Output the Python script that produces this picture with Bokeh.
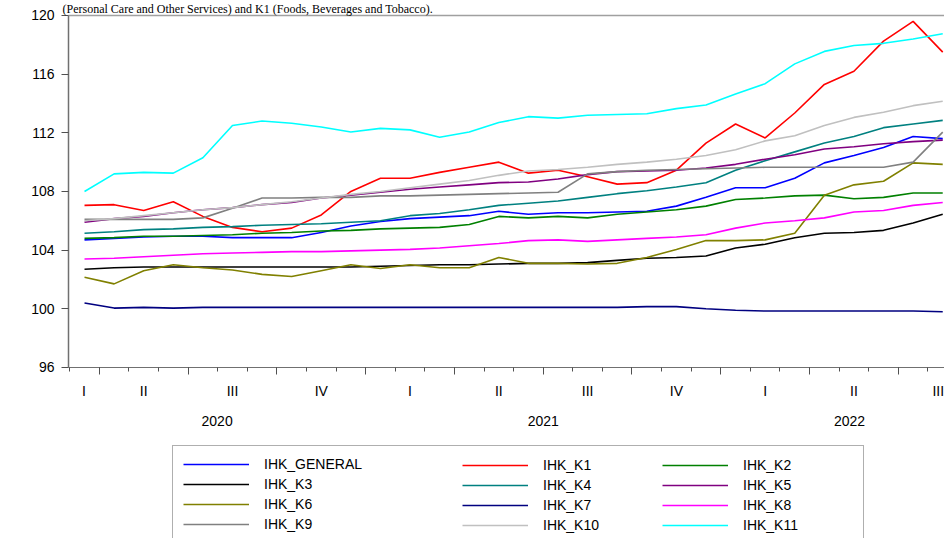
from bokeh.plotting import figure
from bokeh.models import (Range1d, FixedTicker, CustomJSTickFormatter, Label, Legend,
                          LegendItem, LinearAxis)
from bokeh.embed import file_html
from bokeh.resources import INLINE

# ---------------- data ----------------
months = ["2020-03", "2020-04", "2020-05", "2020-06", "2020-07", "2020-08", "2020-09", "2020-10",
          "2020-11", "2020-12", "2021-01", "2021-02", "2021-03", "2021-04", "2021-05", "2021-06",
          "2021-07", "2021-08", "2021-09", "2021-10", "2021-11", "2021-12", "2022-01", "2022-02",
          "2022-03", "2022-04", "2022-05", "2022-06", "2022-07", "2022-08"]

series_names = ["IHK_GENERAL", "IHK_K1", "IHK_K2", "IHK_K3", "IHK_K4", "IHK_K5",
                "IHK_K6", "IHK_K7", "IHK_K8", "IHK_K9", "IHK_K10", "IHK_K11"]

ihk_general = [104.7, 104.8, 104.9, 104.95, 104.95, 104.85, 104.85, 104.85, 105.2, 105.65, 105.95, 106.15,
               106.25, 106.35, 106.65, 106.45, 106.55, 106.55, 106.6, 106.65, 107.0, 107.6, 108.25, 108.25,
               108.9, 109.95, 110.45, 111.0, 111.75, 111.6]
ihk_k1 = [107.05, 107.1, 106.7, 107.3, 106.3, 105.55, 105.25, 105.5, 106.4, 108.0, 108.9, 108.9,
          109.3, 109.65, 110.0, 109.25, 109.45, 109.0, 108.5, 108.6, 109.45, 111.3, 112.6, 111.65,
          113.35, 115.3, 116.2, 118.25, 119.6, 117.5]
ihk_k2 = [104.8, 104.85, 104.95, 104.95, 105.0, 105.05, 105.15, 105.2, 105.3, 105.35, 105.45, 105.5,
          105.55, 105.75, 106.3, 106.2, 106.3, 106.2, 106.45, 106.6, 106.75, 107.0, 107.45, 107.55,
          107.7, 107.75, 107.5, 107.6, 107.9, 107.9]
ihk_k3 = [102.7, 102.8, 102.85, 102.85, 102.85, 102.85, 102.85, 102.85, 102.85, 102.85, 102.9, 102.95,
          103.0, 103.0, 103.05, 103.1, 103.1, 103.15, 103.3, 103.45, 103.5, 103.6, 104.15, 104.4,
          104.85, 105.15, 105.2, 105.35, 105.85, 106.45]
ihk_k4 = [105.15, 105.25, 105.4, 105.45, 105.55, 105.6, 105.7, 105.75, 105.8, 105.9, 106.0, 106.35,
          106.5, 106.75, 107.05, 107.2, 107.35, 107.6, 107.85, 108.05, 108.3, 108.6, 109.45, 110.1,
          110.7, 111.3, 111.75, 112.35, 112.6, 112.85]
ihk_k5 = [105.9, 106.15, 106.3, 106.55, 106.75, 106.9, 107.1, 107.25, 107.55, 107.75, 107.95, 108.15,
          108.3, 108.45, 108.6, 108.65, 108.85, 109.15, 109.35, 109.4, 109.45, 109.6, 109.85, 110.2,
          110.5, 110.9, 111.05, 111.25, 111.4, 111.5]
ihk_k6 = [102.15, 101.7, 102.6, 103.0, 102.8, 102.65, 102.35, 102.2, 102.6, 103.0, 102.75, 103.0,
          102.8, 102.8, 103.5, 103.1, 103.1, 103.05, 103.1, 103.5, 104.05, 104.65, 104.65, 104.7,
          105.15, 107.75, 108.45, 108.7, 109.95, 109.85]
ihk_k7 = [100.4, 100.05, 100.1, 100.05, 100.1, 100.1, 100.1, 100.1, 100.1, 100.1, 100.1, 100.1,
          100.1, 100.1, 100.1, 100.1, 100.1, 100.1, 100.1, 100.15, 100.15, 100.0, 99.9, 99.85,
          99.85, 99.85, 99.85, 99.85, 99.85, 99.8]
ihk_k8 = [103.4, 103.45, 103.55, 103.65, 103.75, 103.8, 103.85, 103.9, 103.9, 103.95, 104.0, 104.05,
          104.15, 104.3, 104.45, 104.65, 104.7, 104.6, 104.7, 104.8, 104.9, 105.05, 105.5, 105.85,
          106.0, 106.2, 106.6, 106.7, 107.05, 107.25]
ihk_k9 = [106.1, 106.1, 106.1, 106.1, 106.2, 106.85, 107.55, 107.55, 107.6, 107.6, 107.7, 107.7,
          107.75, 107.8, 107.85, 107.9, 107.95, 109.2, 109.35, 109.45, 109.5, 109.55, 109.6, 109.65,
          109.65, 109.65, 109.65, 109.65, 110.0, 112.05]
ihk_k10 = [106.0, 106.15, 106.35, 106.55, 106.75, 106.9, 107.1, 107.3, 107.55, 107.8, 108.0, 108.25,
           108.5, 108.75, 109.1, 109.4, 109.5, 109.65, 109.85, 110.0, 110.2, 110.45, 110.85, 111.45,
           111.8, 112.5, 113.05, 113.4, 113.85, 114.15]
ihk_k11 = [108.0, 109.2, 109.3, 109.25, 110.3, 112.5, 112.8, 112.65, 112.4, 112.05, 112.3, 112.2,
           111.7, 112.05, 112.7, 113.1, 113.0, 113.2, 113.25, 113.3, 113.65, 113.9, 114.65, 115.35,
           116.7, 117.55, 117.95, 118.1, 118.4, 118.75]

series_values = [ihk_general, ihk_k1, ihk_k2, ihk_k3, ihk_k4, ihk_k5,
                 ihk_k6, ihk_k7, ihk_k8, ihk_k9, ihk_k10, ihk_k11]

y_ticks = [96, 100, 104, 108, 112, 116, 120]
quarter_names = {1: "I", 2: "II", 3: "III", 4: "IV"}

caption = "(Personal Care and Other Services) and K1 (Foods, Beverages and Tobacco)."

# ---------------- layout / styles ----------------
colors = ["#0000FF", "#FF0000", "#008000", "#000000", "#008080", "#800080",
          "#808000", "#000080", "#FF00FF", "#808080", "#C0C0C0", "#00FFFF"]
FONT = "Liberation Sans"
W, H = 944, 538

# whole canvas is the frame; axes are drawn at fixed data locations
x_lo, x_hi = -2.839, 29.06          # canvas edges in month-index units
x_axis_left = -0.54                 # where the left axis sits
label_hi = 30.2                     # right end of the original (cropped) chart
y_lo, y_hi = 84.34, 121.02
y_bottom, y_top = 96, 120

p = figure(width=W, height=H, output_backend="svg", toolbar_location=None,
           x_range=Range1d(x_lo, x_hi), y_range=Range1d(y_lo, y_hi),
           min_border_left=0, min_border_right=0, min_border_top=0, min_border_bottom=0)
p.background_fill_color = "white"
p.border_fill_color = "white"
p.outline_line_color = None
p.xgrid.visible = False
p.ygrid.visible = False

xs = list(range(len(months)))
renderers = []
for vals, col in zip(series_values, colors):
    renderers.append(p.line(xs, vals, line_color=col, line_width=1.6))

# y axis
ya = p.yaxis[0]
ya.fixed_location = x_axis_left
ya.bounds = (y_bottom, y_top)
ya.ticker = FixedTicker(ticks=y_ticks, minor_ticks=[])
ya.major_tick_out = 7
ya.major_tick_in = 0
ya.axis_line_color = "#707070"
ya.axis_line_width = 1.5
ya.major_tick_line_color = "#505050"
ya.major_label_text_font = FONT
ya.major_label_text_font_size = "14px"
ya.major_label_text_color = "black"
ya.major_label_standoff = 7

# x axis: ticks at month boundaries, long ticks at quarter boundaries
yr_mo = [(int(m[:4]), int(m[5:])) for m in months]
month_bounds = [i - 0.5 for i in range(len(months) + 1) if x_axis_left <= i - 0.5 <= x_hi]
quarter_bounds = [i - 0.5 for i, (y, m) in enumerate(yr_mo) if (m - 1) % 3 == 0]
xa = p.xaxis[0]
xa.fixed_location = y_bottom
xa.bounds = (x_axis_left, x_hi)
xa.ticker = FixedTicker(ticks=quarter_bounds, minor_ticks=month_bounds)
xa.formatter = CustomJSTickFormatter(code="return ''")
xa.major_tick_out = 7
xa.major_tick_in = 0
xa.minor_tick_out = 4
xa.minor_tick_in = 0
xa.axis_line_color = "#707070"
xa.major_tick_line_color = "#505050"
xa.minor_tick_line_color = "#505050"

# top border of the chart
top = LinearAxis(fixed_location=y_top, bounds=(x_axis_left, x_hi),
                 ticker=FixedTicker(ticks=[], minor_ticks=[]),
                 formatter=CustomJSTickFormatter(code="return ''"),
                 axis_line_color="#a0a0a0", axis_line_width=1.5,
                 major_tick_out=0, minor_tick_out=0)
p.add_layout(top, "above")

# quarter labels
quarters = {}
for i, (y, m) in enumerate(yr_mo):
    q = (m - 1) // 3 + 1
    quarters.setdefault((y, q), i - (m - 1) % 3)
for (y, q), qstart in quarters.items():
    a = max(qstart - 0.5, x_axis_left)
    b = min(qstart + 2.5, label_hi)
    p.add_layout(Label(x=(a + b) / 2, y=H - 390, x_units="data", y_units="screen",
                       text=quarter_names[q], text_align="center", text_baseline="middle",
                       text_font=FONT, text_font_size="14px", text_color="black"))

# year labels
years = {}
for i, (y, m) in enumerate(yr_mo):
    years.setdefault(y, i - (m - 1))
for y, ystart in years.items():
    a = max(ystart - 0.5, x_axis_left)
    b = min(ystart + 11.5, label_hi)
    p.add_layout(Label(x=(a + b) / 2, y=H - 420, x_units="data", y_units="screen",
                       text=str(y), text_align="center", text_baseline="middle",
                       text_font=FONT, text_font_size="14px", text_color="black"))

# caption line above the chart (kept small so it fits above the frame)
p.add_layout(Label(x=62, y=H - 1, x_units="screen", y_units="screen", text=caption,
                   text_font="Liberation Serif", text_font_size="12px", text_color="black",
                   text_baseline="top", text_align="left"))

# legend: 3 columns
items = [LegendItem(label=n, renderers=[r]) for n, r in zip(series_names, renderers)]
cols = [items[0::3], items[1::3], items[2::3]]
col_x = [172, 452, 652]
for k, (its, cx) in enumerate(zip(cols, col_x)):
    leg = Legend(items=its, location=(cx, -5), orientation="vertical",
                 glyph_width=66, glyph_height=16, label_height=16, label_standoff=15,
                 spacing=4, padding=10, margin=0,
                 label_text_font=FONT, label_text_font_size="14px", label_text_color="black")
    if k == 0:
        leg.padding = 10
        leg.label_width = 584 + 5
        leg.border_line_color = "#606060"
        leg.border_line_width = 1
        leg.background_fill_color = "white"
        leg.background_fill_alpha = 1
    else:
        leg.border_line_alpha = 0
        leg.background_fill_alpha = 0
    p.add_layout(leg, "center")

open("out.html", "w").write(file_html(p, INLINE))
